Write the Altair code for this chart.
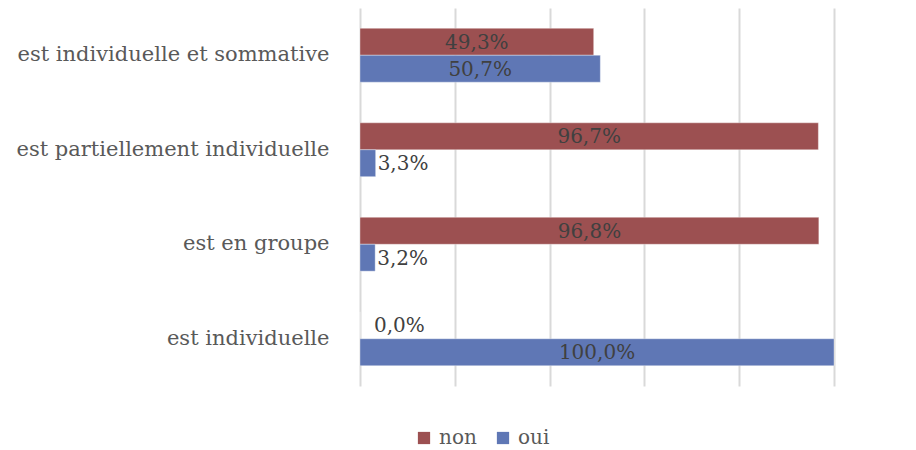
import altair as alt
import pandas as pd

categories = ["est individuelle et sommative", "est partiellement individuelle", "est en groupe", "est individuelle"]
series = ["non", "oui"]
non_values = [49.3, 96.7, 96.8, 0.0]
oui_values = [50.7, 3.3, 3.2, 100.0]
colors = ["#9C5051", "#5F77B5"]

rows = []
for c, n, o in zip(categories, non_values, oui_values):
    for s, v in (("non", n), ("oui", o)):
        rows.append({"cat": c, "serie": s, "val": v,
                     "label": f"{v:.1f}".replace(".", ",") + "%",
                     "kind": "big" if v >= 10 else ("zero" if v == 0 else "small")})
df = pd.DataFrame(rows)

FONT = "DejaVu Serif"
FS = 20

y = alt.Y("cat:N", sort=categories, title=None,
          scale=alt.Scale(paddingInner=0.43, paddingOuter=0.215),
          axis=alt.Axis(labelFont=FONT, labelFontSize=21, labelColor="#595959",
                        ticks=False, domain=False, labelPadding=31, labelLimit=400, grid=False))
yoff = alt.YOffset("serie:N", sort=series, scale=alt.Scale(paddingInner=0, paddingOuter=0))

base = alt.Chart(df)

bars = base.mark_bar(strokeWidth=1, strokeOpacity=0.35, stroke="white").encode(
    x=alt.X("val:Q", scale=alt.Scale(domain=[0, 100], nice=False), title=None,
            axis=alt.Axis(values=[0, 20, 40, 60, 80, 100], labels=False, ticks=False, domain=False,
                          grid=True, gridColor="#D9D9D9", gridWidth=2)),
    y=y, yOffset=yoff,
    color=alt.Color("serie:N", sort=series, scale=alt.Scale(domain=series, range=colors),
                    legend=alt.Legend(title=None, orient="none", direction="horizontal",
                                      legendX=54, legendY=420, symbolType="square", symbolSize=150,
                                      symbolStrokeWidth=0, labelFont=FONT, labelFontSize=FS,
                                      labelColor="#595959", columnPadding=16, labelOffset=5)),
)

big = base.transform_filter("datum.kind == 'big'").transform_calculate(pos="datum.val / 2").mark_text(
    font=FONT, fontSize=FS, color="#404040", align="center", baseline="middle", dy=1).encode(
    x="pos:Q", y=y, yOffset=yoff, text="label:N")

small = base.transform_filter("datum.kind == 'small'").mark_text(
    font=FONT, fontSize=FS, color="#404040", align="left", baseline="middle", dx=2, dy=1).encode(
    x="val:Q", y=y, yOffset=yoff, text="label:N")

zero = base.transform_filter("datum.kind == 'zero'").mark_text(
    font=FONT, fontSize=FS, color="#404040", align="left", baseline="middle", dx=14, dy=1).encode(
    x="val:Q", y=y, yOffset=yoff, text="label:N")

chart = alt.layer(bars, big, small, zero).properties(
    width=474, height=378,
    autosize=alt.AutoSizeParams(type="none"),
    padding={"left": 352, "top": 0, "right": 60, "bottom": 64},
).configure_view(stroke=None)

chart.save("out.html", embed_options={"renderer": "svg", "actions": False})
